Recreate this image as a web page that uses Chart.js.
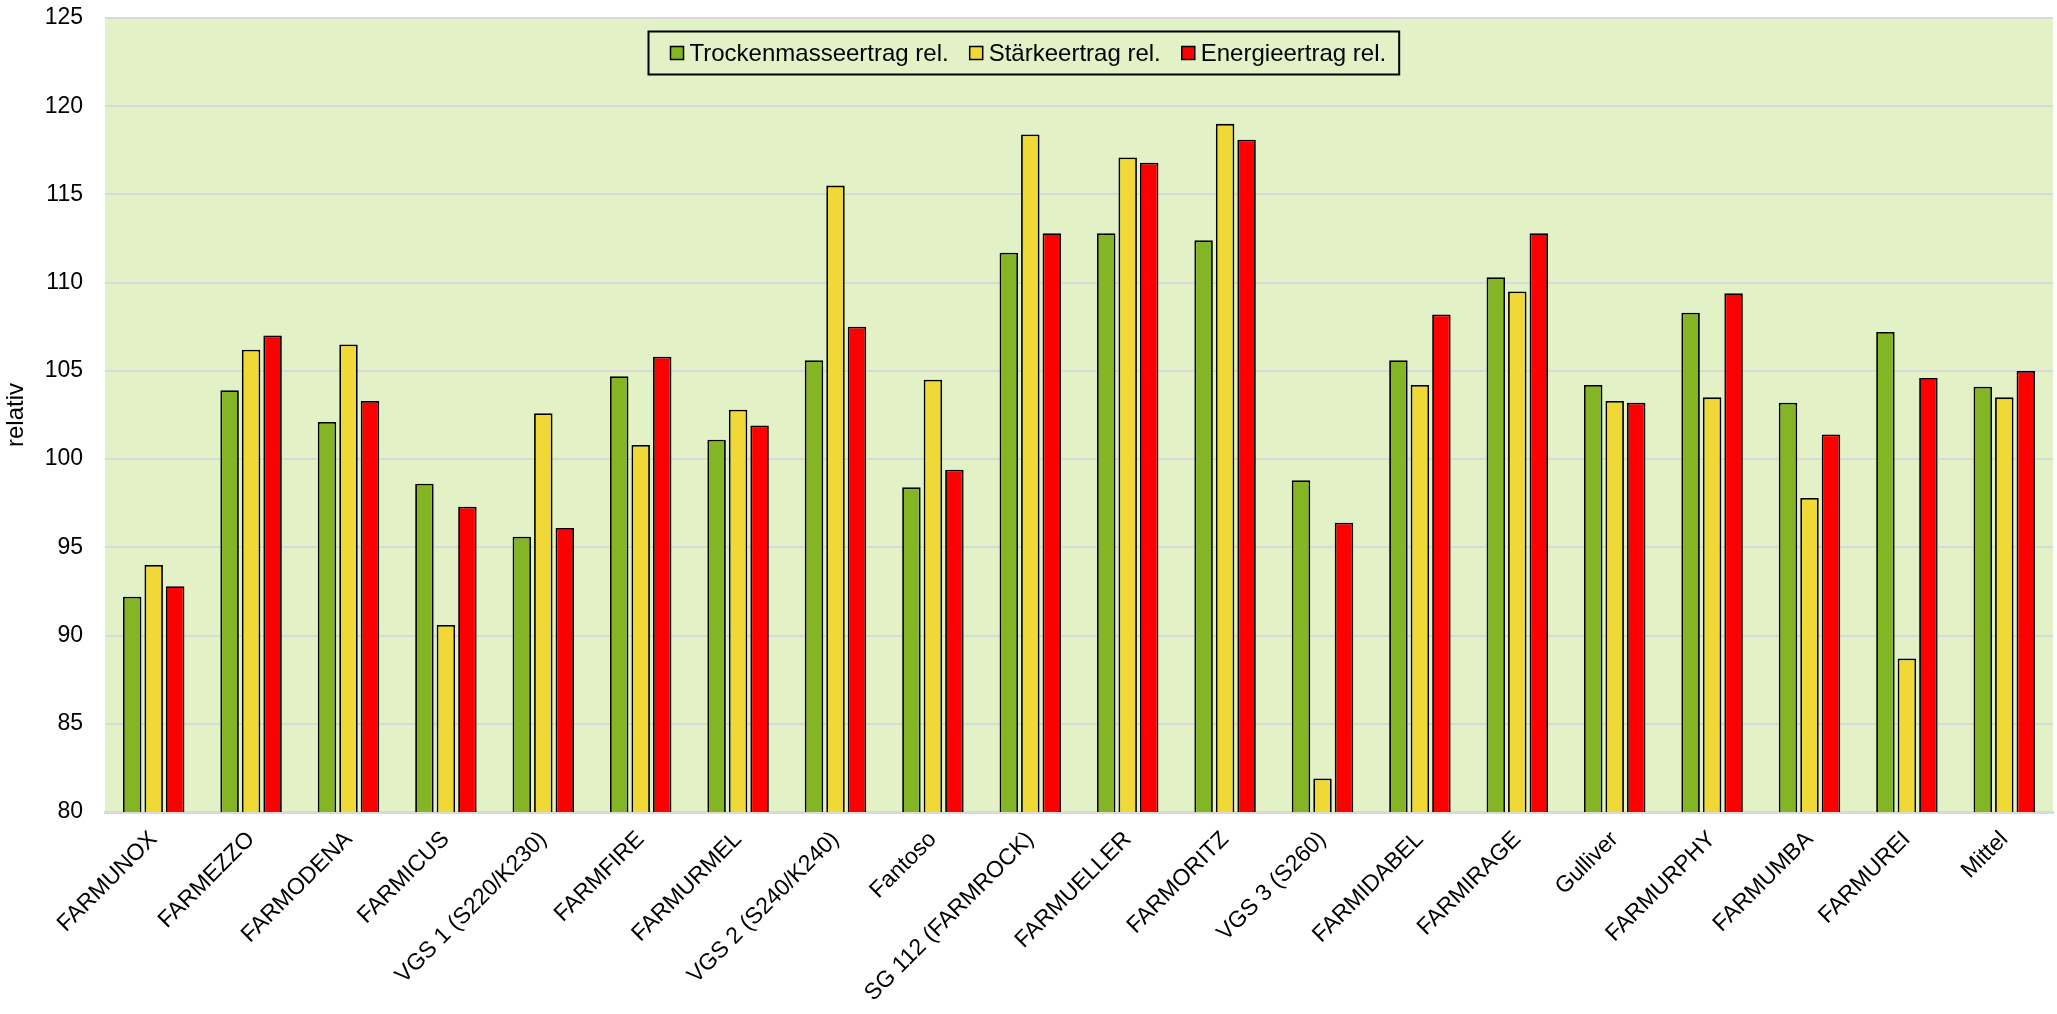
<!DOCTYPE html>
<html>
<head>
<meta charset="utf-8">
<script src="https://cdn.jsdelivr.net/npm/chart.js"></script>
<style>
    html, body { margin: 0; padding: 0; background: #ffffff; }
    #wrap { width: 2057px; height: 1014px; }
</style>
</head>
<body>
<div id="wrap"><canvas id="ertragChart"></canvas></div>
<script>
    // Sorten (x-Achse)
    const sorten = [
        'FARMUNOX', 'FARMEZZO', 'FARMODENA', 'FARMICUS', 'VGS 1 (S220/K230)',
        'FARMFIRE', 'FARMURMEL', 'VGS 2 (S240/K240)', 'Fantoso', 'SG 112 (FARMROCK)',
        'FARMUELLER', 'FARMORITZ', 'VGS 3 (S260)', 'FARMIDABEL', 'FARMIRAGE',
        'Gulliver', 'FARMURPHY', 'FARMUMBA', 'FARMUREI', 'Mittel'
    ];

    // relative Ertraege
    const trockenmasse = [92.2, 103.9, 102.1, 98.6, 95.6, 104.7, 101.1, 105.6, 98.4, 111.7,
                          112.8, 112.4, 98.8, 105.6, 110.3, 104.2, 108.3, 103.2, 107.2, 104.1];
    const staerke      = [94.0, 106.2, 106.5, 90.6, 102.6, 100.8, 102.8, 115.5, 104.5, 118.4,
                          117.1, 119.0, 81.9, 104.2, 109.5, 103.3, 103.5, 97.8, 88.7, 103.5];
    const energie      = [92.8, 107.0, 103.3, 97.3, 96.1, 105.8, 101.9, 107.5, 99.4, 112.8,
                          116.8, 118.1, 96.4, 108.2, 112.8, 103.2, 109.4, 101.4, 104.6, 105.0];

    const serienNamen = ['Trockenmasseertrag rel.', 'Stärkeertrag rel.', 'Energieertrag rel.'];
    const serienFarben = ['#84B524', '#F0D936', '#FF0000'];

    // y-Achse
    const yMin = 80;
    const yMax = 125;
    const yStep = 5;

    const schrift = '"Liberation Sans", Arial, sans-serif';

    // Hintergrund der Zeichenflaeche
    const plotHintergrund = {
        id: 'plotHintergrund',
        beforeDraw(chart) {
            const a = chart.chartArea;
            const ctx = chart.ctx;
            ctx.save();
            ctx.fillStyle = '#E2F1C6';
            ctx.fillRect(a.left, a.top, a.right - a.left, a.bottom - a.top);
            ctx.restore();
        }
    };

    // Legende mit Rahmen innerhalb der Zeichenflaeche
    const rahmenLegende = {
        id: 'rahmenLegende',
        afterDatasetsDraw(chart) {
            const a = chart.chartArea;
            const ctx = chart.ctx;
            const box = 13, gap = 6, itemGap = 21, padL = 22, padR = 13, h = 43;
            ctx.save();
            ctx.font = '24px ' + schrift;
            const tw = chart.data.datasets.map(ds => ctx.measureText(ds.label).width);
            let w = padL + padR;
            tw.forEach((t, i) => { w += box + gap + t + (i < tw.length - 1 ? itemGap : 0); });
            const left = Math.round(a.left + (a.right - a.left) * 0.279) + 0.5;
            const top = Math.round(a.top + 13) + 0.5;

            ctx.fillStyle = '#E2F1C6';
            ctx.fillRect(left, top, w, h);
            ctx.lineWidth = 2;
            ctx.strokeStyle = '#000';
            ctx.strokeRect(left, top, w, h);

            let x = left + padL;
            const cy = top + h / 2;
            chart.data.datasets.forEach((ds, i) => {
                ctx.fillStyle = ds.backgroundColor;
                ctx.fillRect(x, cy - box / 2, box, box);
                ctx.lineWidth = 1.5;
                ctx.strokeRect(x, cy - box / 2, box, box);
                x += box + gap;
                ctx.fillStyle = '#000';
                ctx.textBaseline = 'middle';
                ctx.fillText(ds.label, x, cy + 1);
                x += tw[i] + itemGap;
            });
            ctx.restore();
        }
    };

    const ctx = document.getElementById('ertragChart').getContext('2d');
    const ertragChart = new Chart(ctx, {
        type: 'bar',
        data: {
            labels: sorten,
            datasets: [trockenmasse, staerke, energie].map((werte, i) => ({
                label: serienNamen[i],
                data: werte,
                backgroundColor: serienFarben[i],
                borderColor: '#000000',
                borderWidth: 1.8,
                borderSkipped: false,
                categoryPercentage: 0.662,
                barPercentage: 0.86
            }))
        },
        options: {
            responsive: true,
            maintainAspectRatio: false,
            animation: false,
            layout: { padding: { top: 0, right: 4, left: 0, bottom: 0 } },
            plugins: {
                legend: { display: false },
                tooltip: { enabled: false }
            },
            scales: {
                x: {
                    grid: { display: false },
                    border: { display: true, color: '#D9D9D9', width: 3 },
                    ticks: {
                        color: '#000',
                        font: { family: schrift, size: 23 },
                        minRotation: 45,
                        maxRotation: 45,
                        autoSkip: false,
                        padding: 6
                    },
                    afterFit(scale) { scale.height = 202; }
                },
                y: {
                    min: yMin,
                    max: yMax,
                    grid: { color: '#D9D9D9', lineWidth: 2, drawTicks: false },
                    border: { display: false },
                    ticks: {
                        stepSize: yStep,
                        color: '#000',
                        font: { family: schrift, size: 23 },
                        padding: 22
                    },
                    title: {
                        display: true,
                        text: 'relativ',
                        color: '#000',
                        font: { family: schrift, size: 24 },
                        padding: { top: 2, bottom: 0 }
                    },
                    afterFit(scale) {
                        scale.width = 105;
                        // oberen Rand nicht um den Tick-Abstand vergroessern
                        scale.paddingTop = 18;
                        scale.paddingBottom = 14;
                    }
                }
            }
        },
        plugins: [plotHintergrund, rahmenLegende]
    });
</script>
</body>
</html>
